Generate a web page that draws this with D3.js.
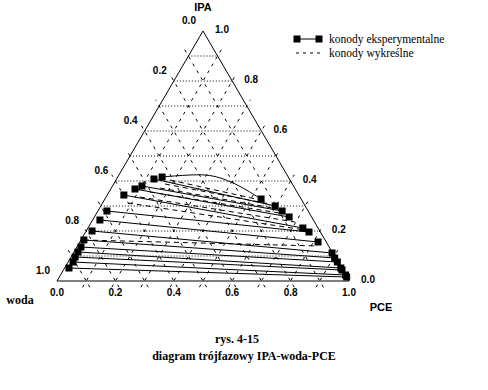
<!DOCTYPE html>
<html>
<head>
<meta charset="utf-8">
<script src="https://cdn.jsdelivr.net/npm/d3@7"></script>
<style>
  body { margin: 0; background: #fff; }
  svg { display: block; }
</style>
</head>
<body>
<svg id="chart"></svg>
<script>
// Skład: [PCE, IPA] (ułamki), woda = 1 - PCE - IPA.
const tickValues = [0, 0.2, 0.4, 0.6, 0.8, 1.0];
const tickLabels = ["0.0", "0.2", "0.4", "0.6", "0.8", "1.0"];
const gridValues = [0.1, 0.2, 0.3, 0.4, 0.5, 0.6, 0.7, 0.8, 0.9];

// konody eksperymentalne - faza wodna (lewa strona)
const expLeft = [
    [0.128, 0.408], [0.101, 0.380], [0.083, 0.368], [0.057, 0.344],
    [0.031, 0.280], [0.025, 0.244], [0.020, 0.200], [0.010, 0.164],
    [0.014, 0.136], [0.014, 0.116], [0.014, 0.096], [0.017, 0.076],
    [0.015, 0.052]
];
// konody eksperymentalne - faza PCE (prawa strona)
const expRight = [
    [0.597, 0.300], [0.631, 0.280], [0.667, 0.256], [0.736, 0.212],
    [0.765, 0.196], [0.816, 0.156], [0.886, 0.112], [0.905, 0.092],
    [0.922, 0.076], [0.946, 0.052], [0.954, 0.044], [0.976, 0.024],
    [0.984, 0.016]
];
// górna konoda (zakrzywiona)
const topCurve = [[0.152, 0.416], [0.295, 0.424], [0.407, 0.392], [0.535, 0.328]];

// konody wykreślne
const calcLeft = [
    [0.185, 0.404], [0.176, 0.388], [0.167, 0.372], [0.140, 0.356],
    [0.116, 0.336], [0.087, 0.312], [0.010, 0.164]
];
const calcRight = [
    [0.552, 0.320], [0.575, 0.308], [0.613, 0.288], [0.647, 0.268],
    [0.697, 0.236], [0.747, 0.204], [0.824, 0.140]
];

const legendLabels = ["konody eksperymentalne", "konody wykreślne"];

const width = 488;
const height = 390;

const svg = d3.select("#chart")
    .attr("width", width)
    .attr("height", height);

// skale: poziomo PCE + IPA/2, pionowo IPA
const xs = d3.scaleLinear().domain([0, 1]).range([57, 349]);
const ys = d3.scaleLinear().domain([0, 1]).range([281, 31]);
const pt = d => [xs(d[0] + d[1] / 2), ys(d[1])];

const sans = "'Liberation Sans', Arial, sans-serif";
const serif = "'Liberation Serif', 'Times New Roman', serif";

// siatka: poziome kropkowane (stałe IPA)
const grid = svg.append("g");
grid.selectAll("line.h")
    .data(gridValues)
    .join("line")
    .attr("class", "h")
    .attr("x1", v => pt([0, v])[0])
    .attr("y1", v => pt([0, v])[1])
    .attr("x2", v => pt([1 - v, v])[0])
    .attr("y2", v => pt([1 - v, v])[1])
    .attr("stroke", "#000")
    .attr("stroke-width", 1)
    .attr("stroke-dasharray", "1,2");

// ukośne kreskowane (stałe PCE i stała woda), lekko wychodzą poza trójkąt
const ext = 0.025;
grid.selectAll("line.p")
    .data(gridValues)
    .join("line")
    .attr("class", "p")
    .attr("x1", v => pt([v, -ext])[0])
    .attr("y1", v => pt([v, -ext])[1])
    .attr("x2", v => pt([v, 1 - v + ext])[0])
    .attr("y2", v => pt([v, 1 - v + ext])[1])
    .attr("stroke", "#000")
    .attr("stroke-dasharray", "3,5");

grid.selectAll("line.w")
    .data(gridValues)
    .join("line")
    .attr("class", "w")
    .attr("x1", v => pt([1 - v + ext, -ext])[0])
    .attr("y1", v => pt([1 - v + ext, -ext])[1])
    .attr("x2", v => pt([-ext, 1 - v + ext])[0])
    .attr("y2", v => pt([-ext, 1 - v + ext])[1])
    .attr("stroke", "#000")
    .attr("stroke-dasharray", "3,5");

// trójkąt
svg.append("path")
    .attr("d", d3.line()([pt([0, 0]), pt([1, 0]), pt([0, 1])]) + "Z")
    .attr("fill", "none")
    .attr("stroke", "#000")
    .attr("stroke-width", 1);

// konody wykreślne (przerywane)
svg.append("g")
    .selectAll("line")
    .data(calcLeft.map((d, k) => [d, calcRight[k]]))
    .join("line")
    .attr("x1", d => pt(d[0])[0])
    .attr("y1", d => pt(d[0])[1])
    .attr("x2", d => pt(d[1])[0])
    .attr("y2", d => pt(d[1])[1])
    .attr("stroke", "#000")
    .attr("stroke-dasharray", "5,4");

// konody eksperymentalne
const exp = svg.append("g");
exp.append("path")
    .attr("d", d3.line().curve(d3.curveCardinal)(topCurve.map(pt)))
    .attr("fill", "none")
    .attr("stroke", "#000");

exp.selectAll("line")
    .data(expLeft.map((d, k) => [d, expRight[k]]))
    .join("line")
    .attr("x1", d => pt(d[0])[0])
    .attr("y1", d => pt(d[0])[1])
    .attr("x2", d => pt(d[1])[0])
    .attr("y2", d => pt(d[1])[1])
    .attr("stroke", "#000");

const squares = expLeft.concat(expRight, [topCurve[0], topCurve[topCurve.length - 1]]);
exp.selectAll("rect")
    .data(squares)
    .join("rect")
    .attr("x", d => pt(d)[0] - 3.5)
    .attr("y", d => pt(d)[1] - 3.5)
    .attr("width", 7)
    .attr("height", 7)
    .attr("fill", "#000");

// opisy osi
const labels = svg.append("g")
    .style("font-family", sans)
    .style("font-weight", "bold")
    .style("font-size", "10px")
    .attr("text-anchor", "middle")
    .attr("dominant-baseline", "middle");

// dolna oś: PCE
labels.selectAll("text.b")
    .data(tickValues)
    .join("text")
    .attr("class", "b")
    .attr("x", v => xs(v))
    .attr("y", 293)
    .text((v, k) => tickLabels[k]);

// lewa oś: woda
labels.selectAll("text.l")
    .data(tickValues)
    .join("text")
    .attr("class", "l")
    .attr("x", v => pt([0, 1 - v])[0] - 14)
    .attr("y", v => pt([0, 1 - v])[1] - 10)
    .text((v, k) => tickLabels[k]);

// prawa oś: IPA
labels.selectAll("text.r")
    .data(tickValues)
    .join("text")
    .attr("class", "r")
    .attr("x", v => pt([1 - v, v])[0] + 19)
    .attr("y", v => pt([1 - v, v])[1] - 1)
    .text((v, k) => tickLabels[k]);

svg.append("text")
    .attr("x", xs(0.5)).attr("y", 8)
    .attr("text-anchor", "middle").attr("dominant-baseline", "middle")
    .style("font", `bold 11px ${sans}`)
    .text("IPA");

svg.append("text")
    .attr("x", 20).attr("y", 301)
    .attr("text-anchor", "middle").attr("dominant-baseline", "middle")
    .style("font", `bold 12px ${serif}`)
    .text("woda");

svg.append("text")
    .attr("x", 381).attr("y", 308)
    .attr("text-anchor", "middle").attr("dominant-baseline", "middle")
    .style("font", `bold 11px ${sans}`)
    .text("PCE");

// legenda
const legend = svg.append("g");
legend.append("line")
    .attr("x1", 297).attr("x2", 319).attr("y1", 39).attr("y2", 39)
    .attr("stroke", "#000");
legend.selectAll("rect")
    .data([297, 319])
    .join("rect")
    .attr("x", d => d - 3.5).attr("y", 35.5)
    .attr("width", 7).attr("height", 7)
    .attr("fill", "#000");
legend.append("line")
    .attr("x1", 296).attr("x2", 321).attr("y1", 53).attr("y2", 53)
    .attr("stroke", "#000")
    .attr("stroke-dasharray", "3,4");
legend.selectAll("text")
    .data(legendLabels)
    .join("text")
    .attr("x", 329)
    .attr("y", (d, k) => 40 + k * 14)
    .attr("dominant-baseline", "middle")
    .style("font", `11.5px ${serif}`)
    .text(d => d);

// podpis
svg.append("text")
    .attr("x", 237).attr("y", 340)
    .attr("text-anchor", "middle").attr("dominant-baseline", "middle")
    .style("font", `bold 12px ${serif}`)
    .text("rys. 4-15");

svg.append("text")
    .attr("x", 244).attr("y", 357)
    .attr("text-anchor", "middle").attr("dominant-baseline", "middle")
    .style("font", `bold 12px ${serif}`)
    .text("diagram trójfazowy IPA-woda-PCE");
</script>
</body>
</html>
